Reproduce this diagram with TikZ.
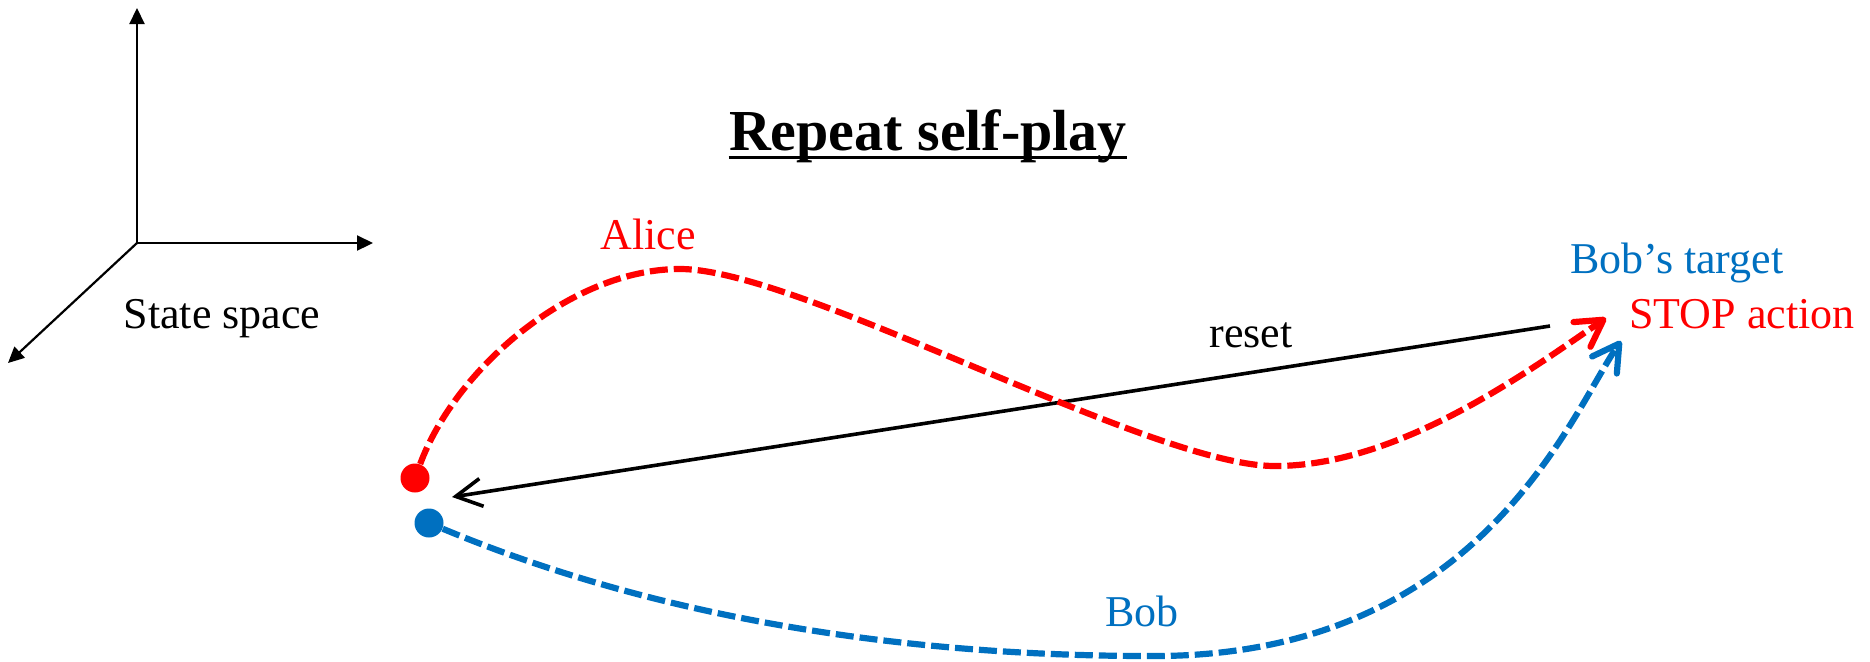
\documentclass[tikz,border=0pt]{standalone}
\usepackage{fontspec}
\setmainfont{Liberation Serif}
\usetikzlibrary{arrows.meta}
\definecolor{ared}{RGB}{255,0,0}
\definecolor{bblue}{RGB}{0,112,192}
\begin{document}
\begin{tikzpicture}[x=0.5pt,y=-0.5pt,
  axis/.style={line width=1.1pt,-{Triangle[length=8pt,width=7.5pt]}},
  lbl/.style={inner sep=0pt,anchor=base,font=\fontsize{22}{26}\selectfont},
  traj/.style={line width=3.1pt,dash pattern=on 9pt off 3pt,-{Straight Barb[length=13pt,width=15pt,round]}},
  dot/.style={circle,inner sep=0pt,minimum size=14.5pt},
  resetarrow/.style={line width=1.8pt,-{Straight Barb[length=13pt,width=14pt]}}
  ]
\useasboundingbox (0,0) rectangle (1870,661);
% axes
\coordinate (O) at (137,243);
\coordinate (axu) at (137,8);
\coordinate (axr) at (373,243);
\coordinate (axd) at (8,363);
\draw[axis] (O) -- (axu);
\draw[axis] (O) -- (axr);
\draw[axis] (O) -- (axd);
\node[lbl] (statespace) at (222,328) {State space};
% title
\node[lbl,font=\bfseries\fontsize{29}{34}\selectfont] (title) at (928,150) {Repeat self-play};
\draw[line width=1.5pt] ([yshift=-3.5pt]title.base west) -- ([yshift=-3.5pt]title.base east);
% labels
\node[lbl,text=ared] (alice) at (648,249) {Alice};
\node[lbl] (reset) at (1251,347) {reset};
\node[lbl,text=bblue] (bobtarget) at (1677,273) {Bob’s target};
\node[lbl,text=ared] (stop) at (1742,328) {STOP action};
\node[lbl,text=bblue] (bob) at (1142,626) {Bob};
% dots and ends
\node[dot,fill=ared] (reddot) at (415,478) {};
\node[dot,fill=bblue] (bluedot) at (429,523) {};
\coordinate (redtip) at (1606,318);
\coordinate (bluetip) at (1621,341);
\coordinate (resetstart) at (1550,326);
\coordinate (resettip) at (452,497);
% reset
\draw[resetarrow] (resetstart) -- (resettip);
% trajectories
\draw[traj,draw=ared] (reddot) .. controls (455,370) and (570,269) .. (680,269)
  .. controls (800,269) and (1150,466) .. (1275,466)
  .. controls (1400,466) and (1530,370) .. (redtip);
\draw[traj,draw=bblue] (bluedot) .. controls (688,631) and (950,656) .. (1150,656)
  .. controls (1480,658) and (1570,415) .. (bluetip);
\end{tikzpicture}
\end{document}
